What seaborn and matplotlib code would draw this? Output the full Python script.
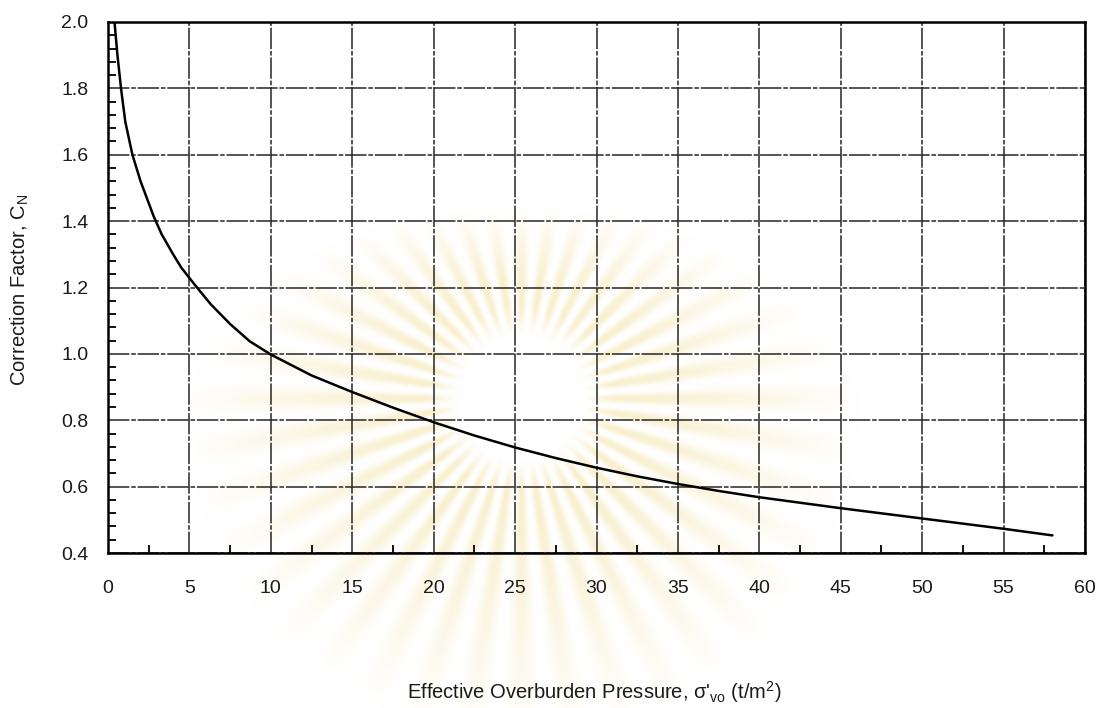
import numpy as np
import pandas as pd
import matplotlib
matplotlib.use("Agg")
import matplotlib.pyplot as plt
import seaborn as sns
from matplotlib.ticker import MultipleLocator, FormatStrFormatter

# Correction factor C_N versus effective overburden pressure (t/m^2)
sigma_vo = [0.4, 0.58, 0.8, 1.06, 1.5, 2.0, 2.8, 3.3, 4.0, 4.5, 5.3, 6.3, 7.5,
            8.7, 10.0, 12.5, 15.0, 17.5, 20.0, 22.5, 25.0, 27.5, 30.0, 32.5,
            35.0, 37.5, 40.0, 45.0, 50.0, 55.0, 58.0]
c_n = [2.0, 1.9, 1.8, 1.7, 1.6, 1.52, 1.415, 1.36, 1.30, 1.26, 1.21, 1.15, 1.09,
       1.038, 0.998, 0.935, 0.885, 0.838, 0.794, 0.754, 0.718, 0.686, 0.657, 0.631,
       0.608, 0.587, 0.568, 0.535, 0.504, 0.473, 0.453]

x_ticks = list(range(0, 61, 5))
y_ticks = [0.4, 0.6, 0.8, 1.0, 1.2, 1.4, 1.6, 1.8, 2.0]

x_label = "Effective Overburden Pressure, σ'$_{\\mathregular{vo}}$ (t/m$^{\\mathregular{2}}$)"
y_label = "Correction Factor, C$_{\\mathregular{N}}$"

sns.set_theme(style="white")
plt.rcParams["font.family"] = ["Liberation Sans", "DejaVu Sans"]
plt.rcParams["mathtext.fontset"] = "custom"
plt.rcParams["mathtext.rm"] = "Liberation Sans"
plt.rcParams["mathtext.it"] = "Liberation Sans:italic"

W, H = 1109, 708
fig = plt.figure(figsize=(W / 100, H / 100), dpi=100)
fig.patch.set_facecolor("white")

# faint sunburst emblem printed behind the chart
bg = fig.add_axes([0, 0, 1, 1], zorder=0)
bg.axis("off")
cx, cy = 521, 398
yy, xx = np.mgrid[0:H, 0:W].astype(float)
dx, dy = xx - cx, yy - cy
theta = np.arctan2(dy, dx)
r = np.hypot(dx, dy)
# rays reach less far upward than sideways and downward
up = np.clip(-dy / np.maximum(r, 1), 0, 1)
reach = 340 - 150 * up
rays = (0.5 + 0.5 * np.cos(40 * theta)) ** 1.1
inner = np.clip((r - 62) / 30, 0, 1)
outer = np.clip(1 - (r - 120) / (reach - 120), 0, 1) ** 0.9
alpha = 0.36 * rays * inner * outer
tint = np.array([238, 212, 120]) / 255.0
img = np.ones((H, W, 3)) * (1 - alpha[..., None]) + tint * alpha[..., None]
bg.imshow(img, extent=(0, W, H, 0), interpolation="bilinear", aspect="auto")
bg.set_xlim(0, W)
bg.set_ylim(H, 0)

# main chart
left, right, top, bottom = 108, 1085, 22, 553
ax = fig.add_axes([left / W, 1 - bottom / H, (right - left) / W, (bottom - top) / H], zorder=1)
ax.patch.set_alpha(0)

df = pd.DataFrame({"sigma": sigma_vo, "cn": c_n})
sns.lineplot(data=df, x="sigma", y="cn", ax=ax, color="black", linewidth=1.8, sort=True)

ax.set_xlim(0, 60)
ax.set_ylim(0.4, 2.0)
ax.set_xticks(x_ticks)
ax.set_yticks(y_ticks)
ax.yaxis.set_major_formatter(FormatStrFormatter("%.1f"))
ax.xaxis.set_minor_locator(MultipleLocator(2.5))
ax.yaxis.set_minor_locator(MultipleLocator(0.04))
ax.set_xlabel("")
ax.set_ylabel("")

ax.set_axisbelow(True)
ax.grid(True, which="major", color="#262626", linewidth=1.1, linestyle=(0, (14, 1.2, 3, 1.2)))
ax.grid(False, which="minor")

ax.tick_params(which="major", length=0, labelsize=14, colors="#1a1a1a")
ax.tick_params(axis="x", which="major", pad=19.5)
ax.tick_params(axis="y", which="major", pad=14)
ax.tick_params(which="minor", direction="in", length=6, width=1.3, color="black",
               bottom=True, left=True, top=False, right=False)

for sp in ax.spines.values():
    sp.set_visible(True)
    sp.set_color("black")
    sp.set_linewidth(1.8)

fig.text(20 / W, 1 - 290 / H, y_label, rotation=90, ha="center", va="center",
         fontsize=14.5, color="#1a1a1a")
fig.text(594 / W, 1 - 692 / H, x_label, ha="center", va="center",
         fontsize=14.5, color="#1a1a1a")

fig.savefig("out.png", dpi=100, facecolor="white")
